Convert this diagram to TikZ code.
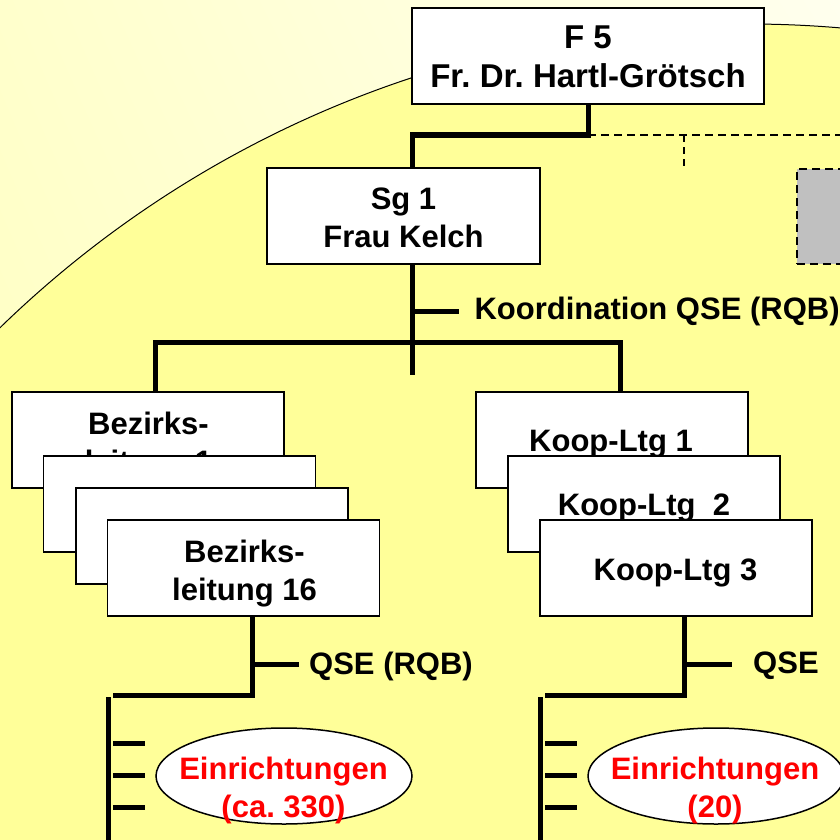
\documentclass[tikz,border=0pt]{standalone}
\usepackage{fontspec}
\setmainfont{Liberation Sans}
\usetikzlibrary{shapes.geometric,shadings}
\frenchspacing
\definecolor{innerY}{HTML}{FFFF99}
\definecolor{outUL}{HTML}{FFFFCC}
\definecolor{outUR}{HTML}{FFFFEE}
\definecolor{outLL}{HTML}{FFFFBE}
\definecolor{outLR}{HTML}{FFFFD8}
\definecolor{greyfill}{HTML}{C0C0C0}
\definecolor{einred}{HTML}{FF0000}
\tikzset{
  orgbox/.style={draw, fill=white, line width=1.6pt, minimum width=272pt, minimum height=96pt, inner sep=0pt},
  lbl/.style={font=\fontsize{31}{38}\selectfont\bfseries, align=center, inner sep=0pt, anchor=north},
  sidelbl/.style={font=\fontsize{31}{38}\selectfont\bfseries, inner sep=0pt, anchor=north west},
  redlbl/.style={lbl, text=einred},
  conn/.style={line width=5pt},
  dashconn/.style={line width=2pt, dash pattern=on 8pt off 5pt},
  thindash/.style={line width=1.5pt, dash pattern=on 7pt off 5pt},
  einell/.style={ellipse, draw, fill=white, line width=1.5pt, minimum width=256pt, minimum height=96pt, inner sep=0pt}
}
\begin{document}
\begin{tikzpicture}[x=1pt,y=-1pt]
\useasboundingbox (0,0) rectangle (840,840);
\clip (0,0) rectangle (840,840);
% background
\shade[upper left=outUL, upper right=outUR, lower left=outLL, lower right=outLR] (0,0) rectangle (840,840);
\draw[fill=innerY, line width=1pt] (748,1097) circle[radius=1073];

% top
\node[orgbox, minimum width=352pt] (f5) at (588,56) {};
\node[lbl, font=\fontsize{33}{39}\selectfont\bfseries] (f5t) at (588,26) {F 5\\Fr. Dr. Hartl-Grötsch};
\node[orgbox, minimum width=273pt] (sg1) at (403.5,216) {};
\node[lbl] (sg1t) at (403.5,188) {Sg 1\\Frau Kelch};

\coordinate (j1) at (588,135);
\coordinate (j2) at (412,135);
\coordinate (dend) at (846,135);
\coordinate (d1) at (684,135);
\coordinate (d2) at (684,167);
\draw[conn] (f5.south) -- (j1) -- (j2) -- (j2 |- sg1.north);
\draw[dashconn] (j1) -- (dend);
\draw[thindash] (d1) -- (d2);
\node[draw, fill=greyfill, line width=2pt, dash pattern=on 8pt off 5pt, minimum width=120pt, minimum height=95pt, anchor=north west, inner sep=0pt] (grey) at (796,168) {};

% Sg1 stem
\coordinate (sgend) at (412,375);
\coordinate (sgtick) at (412,311);
\draw[conn] ([xshift=8.5pt]sg1.south) -- (sgend);
\draw[conn] (sgtick) -- ++(47,0) node[sidelbl, anchor=west, xshift=13pt] (koord) {Koordination QSE (RQB)};

% Bezirk boxes
\node[orgbox] (b1) at (148,440) {};
\node[lbl] (b1t) at (148.5,412) {Bezirks-\\leitung 1};
\node[orgbox] (b2) at (179.5,504) {};
\node[orgbox] (b3) at (212,536) {};
\node[orgbox] (b4) at (243.5,568) {};
\node[lbl] (b4t) at (244.5,540) {Bezirks-\\leitung 16};

% Koop boxes
\node[orgbox] (k1) at (612,440) {};
\node[lbl] (k1t) at (611,430) {Koop-Ltg 1};
\node[orgbox] (k2) at (644,504) {};
\node[lbl] (k2t) at (644,494) {Koop-Ltg\ \ 2};
\node[orgbox] (k3) at (676,568) {};
\node[lbl] (k3t) at (675.5,559) {Koop-Ltg 3};

% branch line
\draw[conn] ([xshift=7pt]b1.north) -- ++(0,-49) -| ([xshift=8pt]k1.north);

% left bottom
\coordinate (lh) at (252,695);
\coordinate (lhend) at (113,695);
\coordinate (lt) at (252,664);
\draw[conn] ([xshift=8.5pt]b4.south) -- (lh) -- (lhend);
\draw[conn] (lt) -- ++(47,0);
\node[sidelbl] (qse1) at (309,652) {QSE (RQB)};
\coordinate (lv1) at (108,697);
\coordinate (lv2) at (108,846);
\draw[conn] (lv1) -- (lv2);
\foreach \yy/\nm in {743/la,775/lb,807/lc}{
  \coordinate (\nm) at (113,\yy);
  \draw[conn] (\nm) -- ++(32,0);
}
\node[einell] (e1) at (284,776) {};
\node[redlbl] (e1t) at (283.5,757) {Einrichtungen\\(ca. 330)};

% right bottom
\coordinate (rh) at (684,695);
\coordinate (rhend) at (545,695);
\coordinate (rt) at (684,664);
\draw[conn] ([xshift=8pt]k3.south) -- (rh) -- (rhend);
\draw[conn] (rt) -- ++(48,0);
\node[sidelbl] (qse2) at (753,652) {QSE};
\coordinate (rv1) at (540,697);
\coordinate (rv2) at (540,846);
\draw[conn] (rv1) -- (rv2);
\foreach \yy/\nm in {743/ra,775/rb,807/rc}{
  \coordinate (\nm) at (545,\yy);
  \draw[conn] (\nm) -- ++(32,0);
}
\node[einell] (e2) at (716,776) {};
\node[redlbl] (e2t) at (715,757) {Einrichtungen\\(20)};
\end{tikzpicture}
\end{document}
